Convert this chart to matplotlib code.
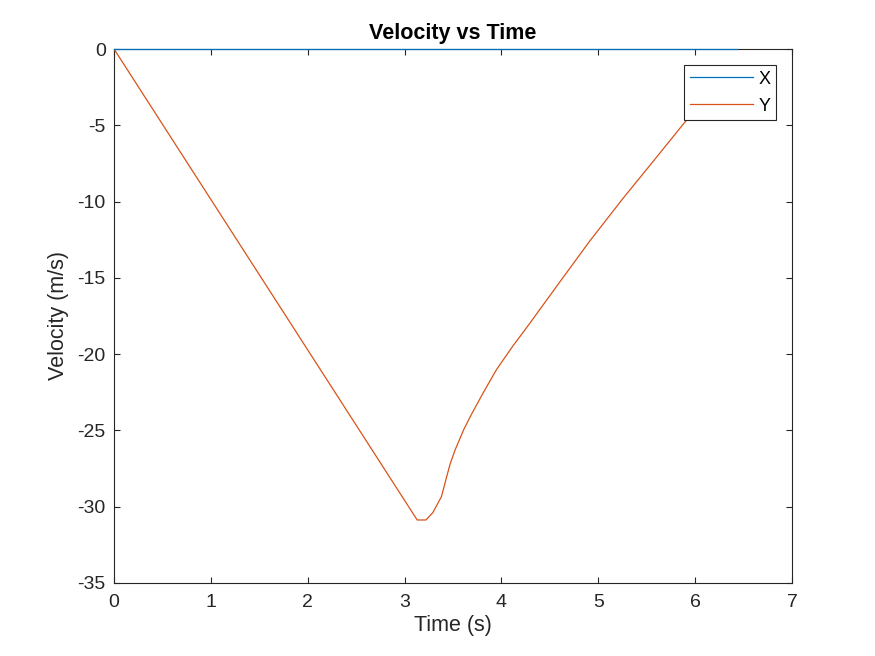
import matplotlib
matplotlib.use("Agg")
import matplotlib.pyplot as plt

plt.rcParams['font.family'] = ['Liberation Sans', 'DejaVu Sans']
plt.rcParams['axes.unicode_minus'] = False

# velocity samples
time_x = [0.0, 6.43]
vel_x = [0.0, 0.0]

time_y = [0.0, 3.13, 3.22, 3.29, 3.38, 3.43, 3.47, 3.52, 3.61, 3.69, 3.81, 3.95,
          4.12, 4.29, 4.45, 4.57, 4.91, 5.26, 5.60, 5.89, 6.10, 6.43]
vel_y = [0.0, -30.87, -30.87, -30.4, -29.35, -28.14, -27.2, -26.3, -24.95, -23.95, -22.55, -21.0,
         -19.45, -18.0, -16.6, -15.55, -12.6, -9.75, -7.1, -4.82, -3.3, -1.3]

x_ticks = [0, 1, 2, 3, 4, 5, 6, 7]
y_ticks = [-35, -30, -25, -20, -15, -10, -5, 0]

fig = plt.figure(figsize=(8.75, 6.56), dpi=100)
ax = fig.add_axes([0.1303, 0.1113, 0.7749, 0.8140])

ax.plot(time_x, vel_x, color='#0072BD', lw=0.9, label='X', clip_on=False, zorder=5)
ax.plot(time_y, vel_y, color='#D95319', lw=0.9, label='Y', zorder=4)

ax.set_xlim(0, 7)
ax.set_ylim(-35, 0)
ax.set_xticks(x_ticks)
ax.set_yticks(y_ticks)
ax.tick_params(direction='in', length=4.5, width=0.8, top=True, right=True,
               labelsize=14, colors='#262626')
ax.tick_params(axis='x', pad=8)
ax.tick_params(axis='y', pad=6)
for s in ax.spines.values():
    s.set_linewidth(0.8)
    s.set_color('#262626')

ax.set_title('Velocity vs Time', fontsize=15.5, fontweight='bold', pad=7)
ax.set_xlabel('Time (s)', fontsize=15.5, color='#262626', labelpad=3)
ax.set_ylabel('Velocity (m/s)', fontsize=15.5, color='#262626', labelpad=6)

leg = ax.legend(loc='upper right', fontsize=13, fancybox=False, framealpha=1,
                edgecolor='#262626', handlelength=3.5, borderaxespad=0.9,
                handletextpad=0.3, labelspacing=0.55, borderpad=0.3)
leg.get_frame().set_linewidth(0.8)

fig.savefig('out.png', dpi=100, facecolor='white')
